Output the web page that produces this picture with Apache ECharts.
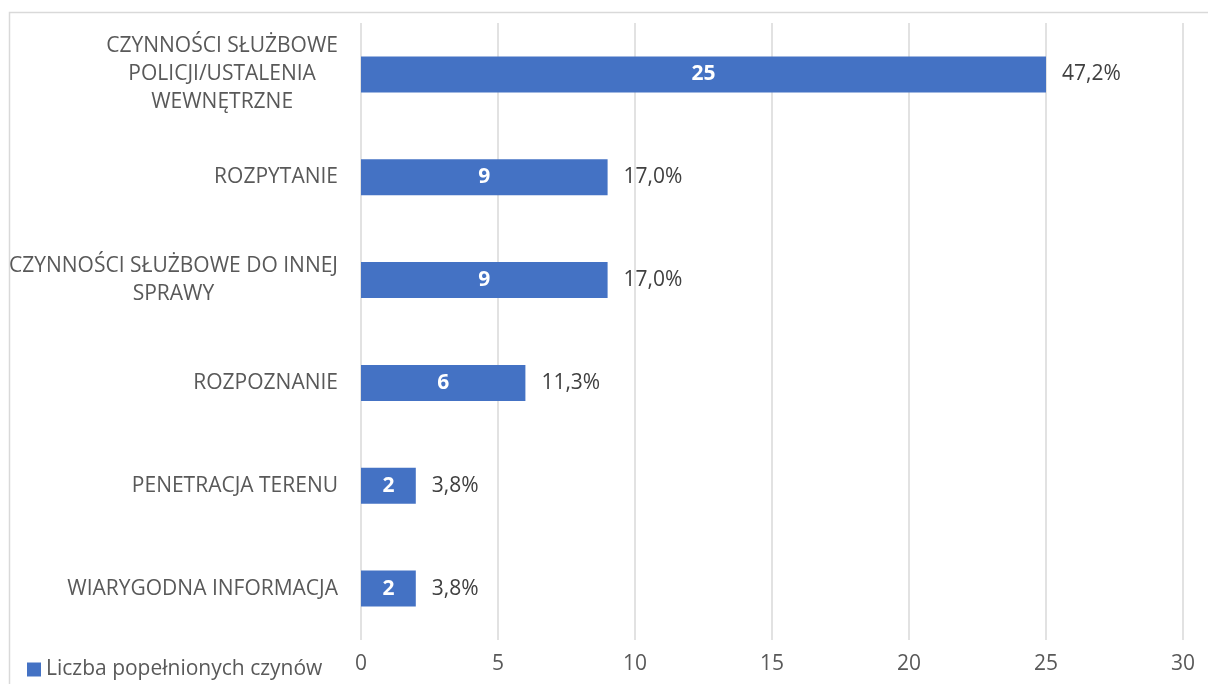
<!DOCTYPE html>
<html>
<head>
<meta charset="utf-8">
<script src="https://cdn.jsdelivr.net/npm/echarts@6/dist/echarts.min.js"></script>
<style>
  html, body { margin: 0; padding: 0; background: #fff; }
  #chart { width: 1208px; height: 684px; }
</style>
</head>
<body>
<div id="chart"></div>
<script>
var categories = [
    'CZYNNOŚCI SŁUŻBOWE\nPOLICJI/USTALENIA\nWEWNĘTRZNE',
    'ROZPYTANIE',
    'CZYNNOŚCI SŁUŻBOWE DO INNEJ\nSPRAWY',
    'ROZPOZNANIE',
    'PENETRACJA TERENU',
    'WIARYGODNA INFORMACJA'
];
var counts = [25, 9, 9, 6, 2, 2];
var shares = ['47,2%', '17,0%', '17,0%', '11,3%', '3,8%', '3,8%'];
var xTicks = [0, 5, 10, 15, 20, 25, 30];

var font = 'Open Sans';
var fs = 21;
var myChart = echarts.init(document.getElementById('chart'));

var option = {
    animation: false,
    textStyle: { fontFamily: font },
    graphic: [{
        type: 'rect',
        shape: { x: 9.5, y: 12.5, width: 1400, height: 900 },
        style: { fill: 'none', stroke: '#d9d9d9', lineWidth: 1.5 },
        silent: true
    }],
    legend: {
        left: 22,
        top: 654,
        itemWidth: 14,
        itemHeight: 14,
        itemGap: 10,
        icon: 'rect',
        textStyle: { fontFamily: font, fontSize: fs, color: '#595959' },
        data: ['Liczba popełnionych czynów']
    },
    grid: {
        left: 361,
        right: 25,
        top: 23,
        bottom: 44,
        containLabel: false
    },
    xAxis: {
        type: 'value',
        min: xTicks[0],
        max: xTicks[xTicks.length - 1],
        interval: 5,
        axisLine: { show: false },
        axisTick: { show: false },
        splitLine: { lineStyle: { color: '#d9d9d9', width: 1.5 } },
        axisLabel: { color: '#595959', fontSize: fs, margin: 14, fontFamily: font }
    },
    yAxis: {
        type: 'category',
        inverse: true,
        data: categories,
        axisLine: { show: false },
        axisTick: { show: false },
        axisLabel: {
            margin: 23,
            formatter: function (v) { return '{c|' + v + '}'; },
            rich: {
                c: {
                    align: 'center',
                    fontSize: fs,
                    lineHeight: 28,
                    color: '#595959',
                    fontFamily: font
                }
            }
        }
    },
    series: [{
        name: 'Liczba popełnionych czynów',
        type: 'bar',
        data: counts,
        barCategoryGap: '65%',
        itemStyle: { color: '#4472c4' },
        label: {
            show: true,
            position: 'inside',
            color: '#ffffff',
            fontWeight: 'bold',
            fontSize: fs,
            fontFamily: font
        }
    }, {
        name: 'udział',
        type: 'bar',
        data: counts,
        barGap: '-100%',
        barCategoryGap: '65%',
        itemStyle: { color: 'rgba(0,0,0,0)' },
        silent: true,
        label: {
            show: true,
            position: 'right',
            distance: 16,
            color: '#404040',
            fontSize: fs,
            fontFamily: font,
            formatter: function (p) { return shares[p.dataIndex]; }
        }
    }]
};

myChart.setOption(option);
</script>
</body>
</html>
